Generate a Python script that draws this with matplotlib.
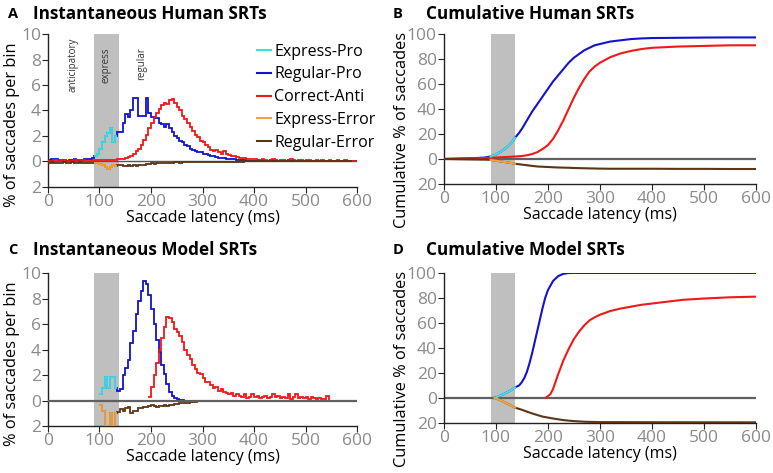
import numpy as np
import matplotlib
matplotlib.use('Agg')
import matplotlib.pyplot as plt

plt.rcParams['font.family'] = ['Open Sans', 'DejaVu Sans']

# Cores das series
C_EXP_PRO = '#3fe3e3'
C_REG_PRO = '#1212d0'
C_ANTI = '#f01818'
C_EXP_ERR = '#f2a33a'
C_REG_ERR = '#5a3516'

BIN = 5
EXPRESS = (90, 137)

# ---- A: histogramas humanos (bins de 5 ms a partir de 0 ms) ----
human_start = 0
human_pro = [0.1, 0.15, 0.2, 0.2, 0.1, 0.1, 0.1, 0.05, 0.1, 0.1, 0.15, 0.1, 0.1, 0.1, 0.15, 0.15, 0.2, 0.3,
             0.4, 0.6, 1.0, 1.5, 2.0, 2.2, 2.6, 1.5, 2.0,
             2.3, 2.3, 3.0, 3.7, 3.5, 4.0, 5.0, 5.0, 3.6, 3.6, 3.6, 5.0, 3.8, 3.5, 3.4, 3.4, 3.0, 2.9,
             2.7, 2.9, 2.6, 2.3, 2.0, 1.8, 1.6, 1.5, 1.3, 1.2, 1.0, 0.9, 0.8, 0.7, 0.7, 0.6, 0.55, 0.5,
             0.45, 0.4, 0.35, 0.3, 0.3, 0.25, 0.2, 0.2, 0.15, 0.15, 0.1, 0.1, 0.1, 0.1, 0.05, 0.05,
             0.05, 0.05, 0.1, 0.05, 0.05, 0.05, 0.05, 0.1, 0.05, 0.05, 0.05, 0.05, 0.05, 0.05, 0.1, 0.05,
             0.05, 0.05, 0.05, 0.05, 0.05, 0.05, 0.05, 0.05, 0.05, 0.05, 0.05, 0.05, 0.05, 0.05, 0.05, 0.05,
             0.05, 0.0, 0.0, 0.0, 0.0, 0.0, 0.0, 0.0, 0.0]
human_anti = [0.05, 0.05, 0.1, 0.1, 0.1, 0.1, 0.1, 0.05, 0.05, 0.05, 0.1, 0.1, 0.1, 0.1, 0.05, 0.05, 0.05, 0.05,
              0.1, 0.1, 0.1, 0.1, 0.1, 0.1, 0.1, 0.1, 0.1, 0.15,
              0.15, 0.2, 0.3, 0.35, 0.45, 0.6, 0.8, 1.0, 1.3, 1.7, 2.1, 2.6, 3.0, 3.5, 3.8, 4.1, 4.4, 4.6,
              4.5, 4.8, 4.9, 4.6, 4.3, 4.0, 3.6, 3.3, 3.0, 2.7, 2.4, 2.1, 1.9, 1.6, 1.5, 1.3, 1.1, 0.9,
              0.8, 0.9, 0.7, 0.6, 0.8, 0.6, 0.5, 0.45, 0.4, 0.35, 0.3, 0.3, 0.25, 0.2, 0.2, 0.15, 0.15, 0.1,
              0.1, 0.15, 0.1, 0.05, 0.1, 0.15, 0.1, 0.05, 0.1, 0.1, 0.05, 0.1, 0.15, 0.1, 0.05, 0.1,
              0.1, 0.05, 0.1, 0.1, 0.05, 0.05, 0.1, 0.05, 0.1, 0.05, 0.05, 0.1, 0.05, 0.05, 0.1, 0.05,
              0.05, 0.1, 0.05, 0.05, 0.05, 0.05]
human_err = [-0.1, -0.05, -0.1, -0.1, -0.15, -0.1, -0.05, -0.1, -0.1, -0.05, -0.1, -0.1, -0.05, -0.1, -0.1, -0.15, -0.1, -0.1,
             -0.1, -0.15, -0.2, -0.3, -0.45, -0.6, -0.45, -0.3, -0.35,
             -0.3, -0.3, -0.4, -0.35, -0.3, -0.4, -0.3, -0.35, -0.3, -0.25, -0.25, -0.2, -0.2, -0.15, -0.2, -0.15, -0.15, -0.1,
             -0.1, -0.1, -0.1, -0.1, -0.08, -0.08, -0.1, -0.08, -0.06, -0.06, -0.08, -0.05, -0.05, -0.05, -0.05, -0.04,
             -0.04, -0.05, -0.04, -0.03, -0.03, -0.03, -0.03, -0.02, -0.03, -0.02, -0.02, -0.02, -0.02, -0.01, -0.02, -0.01,
             -0.01, -0.01, -0.01, -0.01, -0.01, 0.0, -0.01, 0.0, 0.0, 0.0, 0.0, 0.0, 0.0, 0.0, 0.0, 0.0,
             0.0, 0.0, 0.0, 0.0, 0.0, 0.0, 0.0, 0.0, 0.0, 0.0, 0.0, 0.0, 0.0, 0.0, 0.0, 0.0,
             0.0, 0.0, 0.0, 0.0, 0.0, 0.0, 0.0, 0.0, 0.0]

# ---- C: histogramas do modelo ----
model_pro_start = 100
model_pro = [0.5, 1.0, 1.9, 1.0, 1.9, 1.9, 1.0, 0.8, 0.9, 2.0, 2.6, 3.2, 4.5, 5.5, 6.8, 7.8, 8.6, 9.4, 9.2,
             8.3, 7.2, 6.0, 4.8, 3.8, 2.8, 2.1, 1.3, 0.7, 0.4, 0.2, 0.1, 0.05, 0.02, 0.0]
model_anti_start = 195
model_anti = [0.3, 1.1, 2.0, 3.0, 4.0, 4.9, 5.8, 6.6, 6.5, 6.2, 5.6, 5.4, 5.1, 4.6, 4.0, 3.6, 3.3, 2.8, 2.5,
              2.2, 2.1, 1.8, 1.5, 1.5, 1.2, 1.0, 1.1, 0.8, 0.9, 0.7, 0.6, 0.5, 0.6, 0.4, 0.5, 0.4, 0.3, 0.5,
              0.2, 0.3, 0.5, 0.3, 0.4, 0.2, 0.3, 0.4, 0.2, 0.3, 0.5, 0.3, 0.4, 0.2, 0.3, 0.2, 0.5, 0.1, 0.3,
              0.5, 0.2, 0.3, 0.2, 0.3, 0.1, 0.3, 0.2, 0.1, 0.2, 0.1, 0.1, 0.4, 0.0]
model_err_start = 100
model_err = [-0.3, -0.8, -2.0, -2.0, -1.0, -2.0, -1.0, -0.9, -0.65, -0.8, -0.6, -0.5, -1.0, -0.8, -0.8, -0.6,
             -0.6, -0.5, -0.5, -0.4, -0.3, -0.4, -0.5, -0.4, -0.45, -0.35, -0.4, -0.3, -0.3, -0.25, -0.25,
             -0.2, -0.2, -0.15, -0.15, -0.1, -0.1, -0.08, -0.06, -0.05, -0.04, -0.03, -0.02, -0.01, 0.0]

# ---- B: cumulativas humanas ----
lat_b = [0, 30, 60, 80, 90, 100, 110, 120, 130, 137, 145, 150, 160, 170, 180, 190, 200, 210, 220, 230,
         240, 250, 260, 270, 280, 290, 300, 320, 340, 360, 380, 400, 450, 500, 550, 600]
cum_pro_b = [0, 0.3, 0.7, 1.2, 2.0, 3.5, 6.0, 9.0, 13.0, 17.0, 21, 24, 31, 38, 44, 50, 56, 62, 67, 72,
             77, 81, 84, 87, 89, 91, 92, 94, 95, 96, 96.5, 96.8, 97, 97.2, 97.3, 97.3]
cum_anti_b = [0, 0.3, 0.6, 0.8, 1.0, 1.2, 1.4, 1.6, 1.8, 2.0, 2.2, 2.4, 3.0, 4.0, 5.5, 8, 11, 16, 23, 31,
              40, 49, 57, 64, 70, 74, 77, 81.5, 84.5, 86.5, 88, 89, 90, 90.5, 91, 91]
cum_err_b = [0, -0.2, -0.4, -0.5, -0.7, -1.3, -2.0, -2.6, -3.2, -3.8, -4.2, -4.5, -5.0, -5.5, -6.0, -6.2,
             -6.4, -6.6, -6.8, -6.9, -7.0, -7.2, -7.3, -7.4, -7.5, -7.6, -7.7, -7.8, -7.8, -7.8, -7.8, -7.8,
             -7.9, -7.9, -8.0, -8.0]

# ---- D: cumulativas do modelo ----
lat_d_pro = [98, 100, 110, 120, 130, 137, 145, 150, 155, 160, 165, 170, 175, 180, 185, 190, 195, 200,
             210, 220, 230, 240, 250, 600]
cum_pro_d = [0, 0.3, 2, 4, 6.3, 8.3, 10, 12.5, 16, 21, 28, 36, 45, 54, 63, 72, 80, 86, 93.5, 97.5, 99.3,
             99.9, 100, 100]
lat_d_anti = [196, 205, 210, 220, 230, 240, 250, 260, 270, 280, 290, 300, 320, 340, 360, 380, 400, 430,
              460, 500, 550, 600]
cum_anti_d = [0, 3, 7, 19, 30, 39, 47, 53, 58, 62, 64.5, 66.5, 69.5, 71.5, 73, 74.5, 75.5, 77, 78.5, 79.5,
              80.5, 81]
lat_d_err = [98, 110, 120, 130, 137, 150, 170, 190, 210, 230, 250, 270, 300, 400, 600]
cum_err_d = [0, -2.2, -4.2, -6.2, -7.8, -9.5, -12.5, -15, -16.5, -17.8, -18.6, -19.1, -19.4, -19.5, -19.6]

legend_labels = ['Express-Pro', 'Regular-Pro', 'Correct-Anti', 'Express-Error', 'Regular-Error']


def hist_series(ax, start, vals, c_main, c_exp):
    vals = np.array(vals)
    edges = start + BIN * np.arange(len(vals) + 1)
    ax.stairs(vals, edges, color=c_main, lw=1.3, baseline=None, zorder=3)
    idx = np.where((edges[:-1] >= EXPRESS[0]) & (edges[:-1] < 135))[0]
    if c_exp is not None and len(idx):
        ax.stairs(vals[idx], edges[idx[0]:idx[-1] + 2], color=c_exp, lw=1.3, baseline=None, zorder=4)


def cum_series(ax, lat, vals, c_main, c_exp):
    lat = np.array(lat)
    vals = np.array(vals)
    ax.plot(lat, vals, color=c_main, lw=1.5, zorder=3)
    if c_exp is not None:
        m = (lat >= EXPRESS[0]) & (lat <= EXPRESS[1])
        ax.plot(lat[m], vals[m], color=c_exp, lw=1.5, zorder=4)


def style_axis(ax, ymin, ymax, ystep, ylabel, label_xy):
    ax.axvspan(EXPRESS[0], EXPRESS[1], color='#bfbfbf', lw=0, zorder=0)
    ax.set_xlim(0, 600)
    ax.set_ylim(ymin, ymax)
    ax.set_xticks(range(0, 601, 100))
    yt = np.arange(ymin, ymax + 1, ystep)
    ax.set_yticks(yt)
    ax.set_yticklabels([str(abs(int(v))) for v in yt])
    for s in ['top', 'right']:
        ax.spines[s].set_visible(False)
    for s in ['left', 'bottom']:
        ax.spines[s].set_color('#222222')
        ax.spines[s].set_linewidth(1.0)
    ax.tick_params(axis='both', colors='#222222', labelcolor='#8a8a8a', labelsize=12.5, length=4, width=0.8, pad=1)
    ax.set_xlabel('Saccade latency (ms)', fontsize=11.5, labelpad=0)
    ax.set_ylabel(ylabel, fontsize=11.8)
    ax.yaxis.set_label_coords(*label_xy)


fig = plt.figure(figsize=(7.73, 4.73), dpi=100)
axA = fig.add_axes([0.062, 0.605, 0.400, 0.323])
axB = fig.add_axes([0.574, 0.611, 0.404, 0.317])
axC = fig.add_axes([0.062, 0.099, 0.400, 0.323])
axD = fig.add_axes([0.574, 0.106, 0.404, 0.317])

# A
style_axis(axA, -2, 10, 2, '% of saccades per bin', (-0.09, 0.41))
axA.axhline(0, color='#555555', lw=1.0, zorder=2)
hist_series(axA, human_start, human_pro, C_REG_PRO, C_EXP_PRO)
hist_series(axA, human_start, human_anti, C_ANTI, None)
hist_series(axA, human_start, human_err, C_REG_ERR, C_EXP_ERR)
for x, y, t in [(48, 9.75, 'anticipatory'), (113, 8.95, 'express'), (182, 8.95, 'regular')]:
    axA.text(x, y, t, rotation=90, ha='center', va='top', fontsize=7, color='#333333')
handles = [plt.Line2D([], [], color=c, lw=1.5) for c in [C_EXP_PRO, C_REG_PRO, C_ANTI, C_EXP_ERR, C_REG_ERR]]
axA.legend(handles, legend_labels, loc='upper left', bbox_to_anchor=(0.675, 0.937), frameon=False,
           fontsize=11.5, handlelength=0.9, handletextpad=0.2, labelspacing=0.42, borderpad=0, borderaxespad=0)

# B
style_axis(axB, -20, 100, 20, 'Cumulative % of saccades', (-0.109, 0.36))
axB.axhline(0, color='#606060', lw=1.6, zorder=2)
cum_series(axB, lat_b, cum_pro_b, C_REG_PRO, C_EXP_PRO)
cum_series(axB, lat_b, cum_anti_b, C_ANTI, None)
cum_series(axB, lat_b, cum_err_b, C_REG_ERR, C_EXP_ERR)

# C
style_axis(axC, -2, 10, 2, '% of saccades per bin', (-0.09, 0.41))
hist_series(axC, model_pro_start, model_pro, C_REG_PRO, C_EXP_PRO)
hist_series(axC, model_anti_start, model_anti, C_ANTI, None)
hist_series(axC, model_err_start, model_err, C_REG_ERR, C_EXP_ERR)
axC.axhline(0, color='#606060', lw=1.6, zorder=5)

# D
style_axis(axD, -20, 100, 20, 'Cumulative % of saccades', (-0.109, 0.36))
axD.axhline(0, color='#606060', lw=1.6, zorder=2)
cum_series(axD, lat_d_pro, cum_pro_d, C_REG_PRO, C_EXP_PRO)
cum_series(axD, lat_d_anti, cum_anti_d, C_ANTI, None)
cum_series(axD, lat_d_err, cum_err_d, C_REG_ERR, C_EXP_ERR)

# letras e titulos
for x_l, x_t, y, letter, title in [(0.010, 0.043, 0.970, 'A', 'Instantaneous Human SRTs'),
                                   (0.508, 0.551, 0.970, 'B', 'Cumulative Human SRTs'),
                                   (0.010, 0.043, 0.471, 'C', 'Instantaneous Model SRTs'),
                                   (0.508, 0.551, 0.471, 'D', 'Cumulative Model SRTs')]:
    fig.text(x_l, y, letter, fontsize=10.5, fontweight='bold', va='center')
    fig.text(x_t, y, title, fontsize=12.3, fontweight='bold', va='center')

fig.savefig('out.png', dpi=100)
